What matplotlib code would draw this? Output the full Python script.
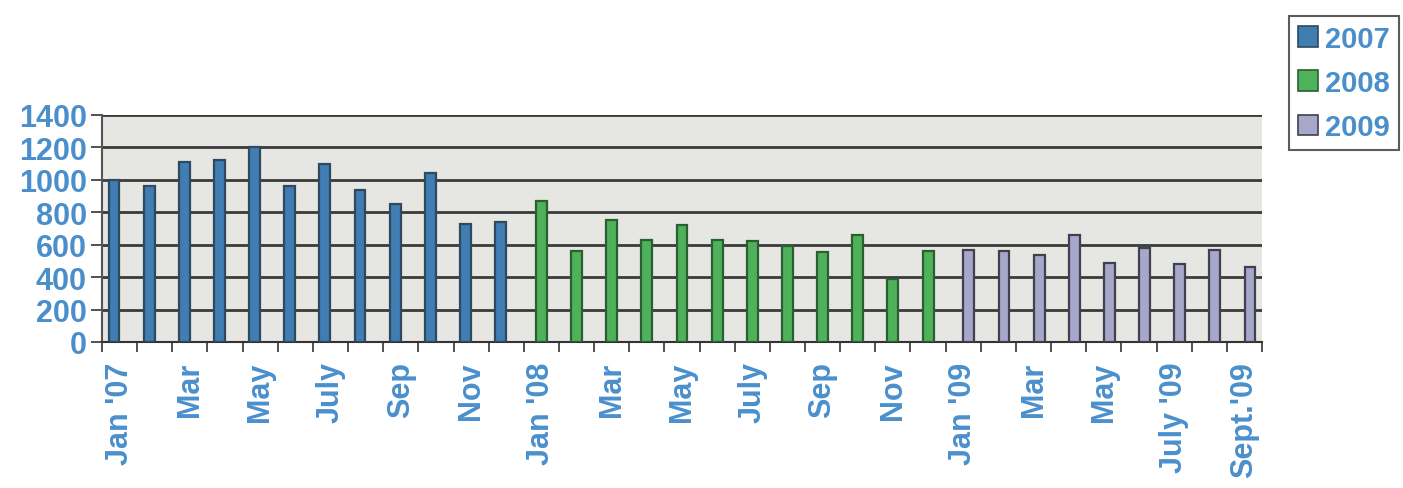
import numpy as np
import matplotlib
matplotlib.use("Agg")
import matplotlib.pyplot as plt
from matplotlib.patches import Patch

plt.rcParams['font.family'] = ['Liberation Sans', 'DejaVu Sans']

months = ["Jan '07", "Feb", "Mar", "Apr", "May", "Jun", "July", "Aug", "Sep", "Oct", "Nov", "Dec",
          "Jan '08", "Feb", "Mar", "Apr", "May", "Jun", "July", "Aug", "Sep", "Oct", "Nov", "Dec",
          "Jan '09", "Feb", "Mar", "Apr", "May", "Jun", "July '09", "Aug", "Sept.'09"]
years = ["2007", "2008", "2009"]
values_2007 = [1000, 960, 1110, 1120, 1200, 960, 1100, 940, 850, 1040, 730, 740]
values_2008 = [870, 560, 750, 630, 720, 630, 620, 590, 555, 660, 390, 560]
values_2009 = [570, 560, 535, 660, 490, 580, 480, 565, 460]
yticks = [0, 200, 400, 600, 800, 1000, 1200, 1400]

series = [values_2007, values_2008, values_2009]
face = ['#3f7db3', '#4fb25a', '#a7a7c9']
edge = ['#2f4a5e', '#2a5f34', '#404050']
offsets = [-0.16, 0.0, 0.16]
label_blue = '#4a8fcc'

fig = plt.figure(figsize=(14.03, 4.89), dpi=100)
ax = fig.add_axes([0.0727, 0.2986, 0.8268, 0.4642])
ax.set_facecolor('#e6e6e2')

start = 0
handles = []
for vals, fc, ec, off, yr in zip(series, face, edge, offsets, years):
    x = np.arange(start, start + len(vals)) + off
    ax.bar(x, vals, width=0.31, color=fc, edgecolor=ec, linewidth=1.6, zorder=3)
    handles.append(Patch(facecolor=fc, edgecolor=ec, linewidth=1.2, label=yr))
    start += len(vals)

n = len(months)
ax.set_xlim(-0.5, n - 0.5)
ax.set_ylim(0, 1400)
ax.set_yticks(yticks)
ax.set_yticklabels([str(v) for v in yticks], fontsize=22, fontweight='bold', color=label_blue)
ax.yaxis.grid(True, color='#3a3a3a', linewidth=2, zorder=1)
ax.set_axisbelow(True)

label_idx = list(range(0, n, 2))
ax.set_xticks(label_idx)
ax.set_xticklabels([months[i] for i in label_idx], rotation=90, fontsize=22,
                   fontweight='bold', color=label_blue, va='top')
ax.set_xticks(np.arange(-0.5, n, 1), minor=True)
ax.tick_params(axis='x', which='major', length=0, pad=14)
ax.tick_params(axis='x', which='minor', length=7, width=1.2, color='#333333')
ax.tick_params(axis='y', length=8, width=1.2, color='#333333', pad=3)

for s in ['top', 'right']:
    ax.spines[s].set_visible(False)
ax.spines['left'].set_color('#555555')
ax.spines['left'].set_linewidth(1.5)
ax.spines['bottom'].set_color('#333333')
ax.spines['bottom'].set_linewidth(1.5)

leg = fig.legend(handles=handles, loc='upper right', bbox_to_anchor=(0.997, 0.965),
                 borderaxespad=0.0,
                 fontsize=21, frameon=True, fancybox=False, edgecolor='#333333',
                 handlelength=0.7, handleheight=0.7, handletextpad=0.25,
                 labelspacing=0.55, borderpad=0.3)
leg.get_frame().set_linewidth(1.5)
for t in leg.get_texts():
    t.set_color(label_blue)
    t.set_fontweight('bold')

fig.savefig('out.png', dpi=100)
